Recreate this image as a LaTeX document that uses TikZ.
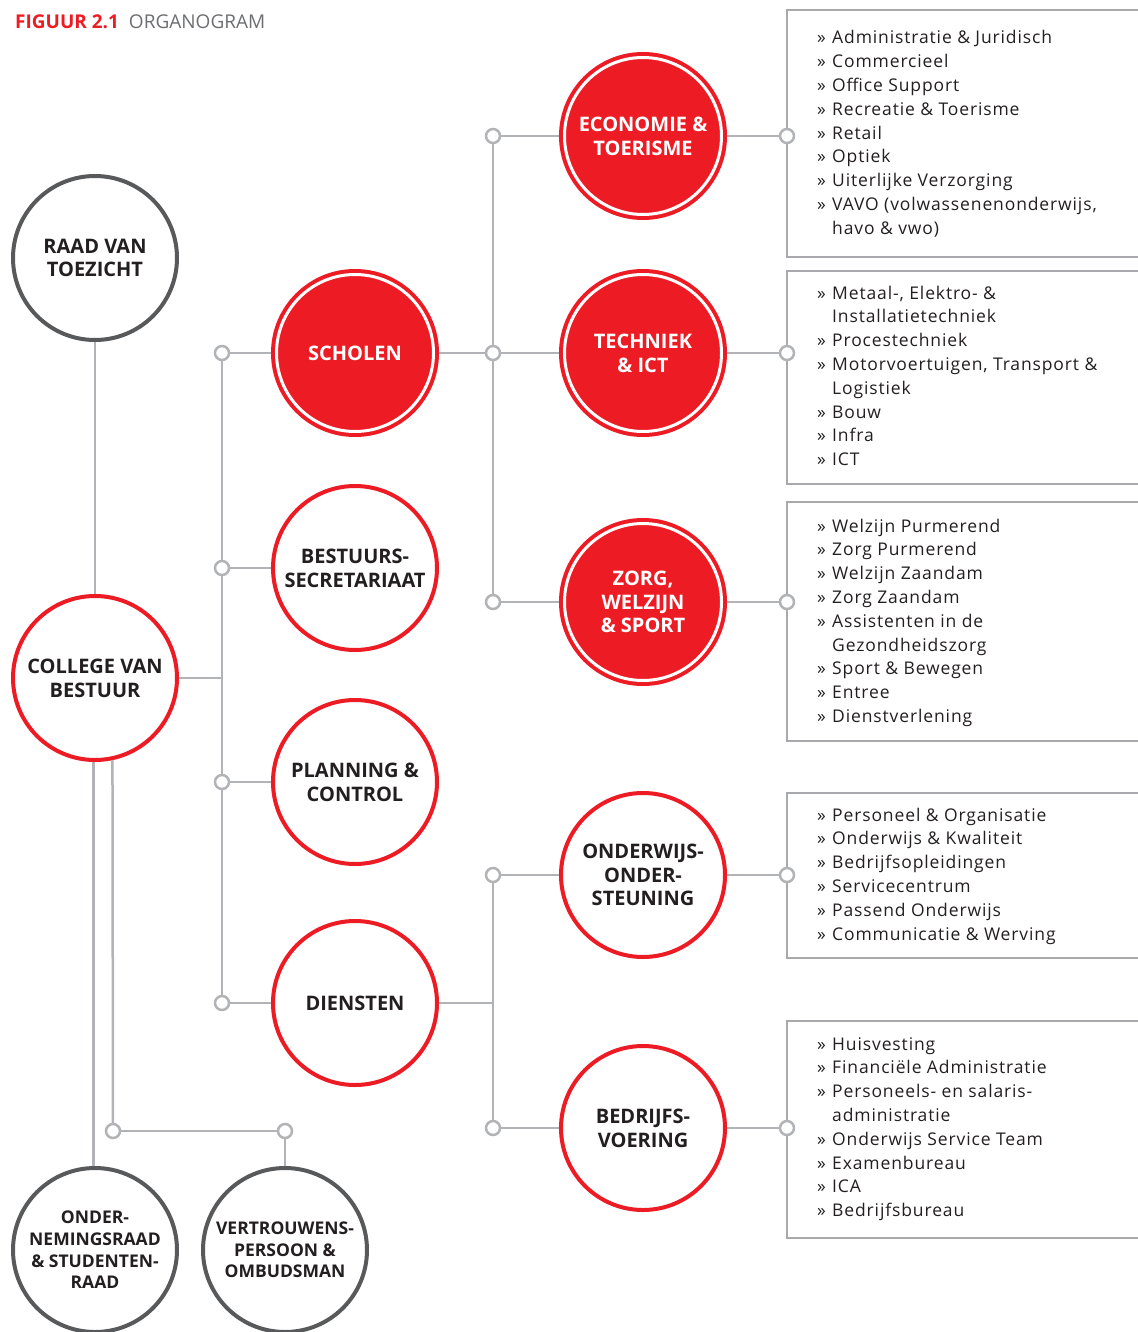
\documentclass[tikz,border=0pt]{standalone}
\usepackage{fontspec}
\setmainfont{Open Sans}
\newfontfamily\boxfont[LetterSpace=5]{Open Sans}
\definecolor{myred}{HTML}{ED1C24}
\definecolor{darkring}{HTML}{58595B}
\definecolor{linegray}{HTML}{B1B3B6}
\definecolor{boxgray}{HTML}{A7A9AC}
\definecolor{txt}{HTML}{231F20}
\definecolor{titlegray}{HTML}{6D6E71}
\newcommand\bul{\makebox[15pt][l]{»}}
\newcommand\cont{\hspace*{15pt}}
\begin{document}
\begin{tikzpicture}[x=1pt,y=-1pt,
  lbl/.style={align=center, font=\bfseries\fontsize{20}{23.8}\selectfont},
  redfill/.style={circle, fill=myred, minimum size=168pt, inner sep=0pt, text=white, lbl},
  redring/.style={circle, draw=myred, line width=4pt, fill=white, minimum size=164pt, inner sep=0pt, text=txt, lbl},
  grayring/.style={circle, draw=darkring, line width=4pt, fill=white, minimum size=164pt, inner sep=0pt, text=txt, lbl},
  smalllbl/.style={font=\bfseries\fontsize{17.5}{21.6}\selectfont},
  joint/.style={circle, draw=linegray, line width=2.5pt, fill=white, minimum size=14pt, inner sep=0pt},
  conn/.style={draw=linegray, line width=2.5pt},
  boxline/.style={draw=boxgray, line width=2pt},
  boxtext/.style={anchor=base west, inner sep=0pt, text=txt, font=\boxfont\fontsize{17.5}{23.8}\selectfont},
  innerring/.style={draw=white, line width=3pt}
]
\useasboundingbox (0,0) rectangle (1137,1332);

% title
\node[anchor=base west, inner sep=0pt, font=\fontsize{19}{22}\selectfont] (title) at (15,29)
  {\textcolor{myred}{\bfseries FIGUUR 2.1}\hspace{10pt}\textcolor{titlegray}{ORGANOGRAM}};

% main circles
\node[grayring] (raad) at (95,258) {RAAD VAN\\TOEZICHT};
\node[redring] (college) at (95,678) {COLLEGE VAN\\BESTUUR};
\node[redfill] (scholen) at (355,353) {SCHOLEN};
\node[redring] (bestuur) at (355,568) {BESTUURS-\\SECRETARIAAT};
\node[redring] (planning) at (355,782) {PLANNING \&\\CONTROL};
\node[redring] (diensten) at (355,1003) {DIENSTEN};
\node[redfill] (econ) at (643,136) {ECONOMIE \&\\TOERISME};
\node[redfill] (tech) at (643,353) {TECHNIEK\\\& ICT};
\node[redfill] (zorg) at (643,602) {ZORG,\\WELZIJN\\\& SPORT};
\node[redring] (onder) at (643,875) {ONDERWIJS-\\ONDER-\\STEUNING};
\node[redring] (bedrijf) at (643,1128) {BEDRIJFS-\\VOERING};
\node[grayring, smalllbl] (ondern) at (95,1250) {ONDER-\\NEMINGSRAAD\\\& STUDENTEN-\\RAAD};
\node[grayring, smalllbl] (vertr) at (285,1250) {VERTROUWENS-\\PERSOON \&\\OMBUDSMAN};

% white inner rings of filled circles
\foreach \n in {scholen,econ,tech,zorg}
  \draw[innerring] (\n.center) circle[radius=78.5pt];

% joints
\node[joint] (jA1) at (222,353) {};
\node[joint] (jA2) at (222,568) {};
\node[joint] (jA3) at (222,782) {};
\node[joint] (jA4) at (222,1003) {};
\node[joint] (jB1) at (493,136) {};
\node[joint] (jB2) at (493,353) {};
\node[joint] (jB3) at (493,602) {};
\node[joint] (jC1) at (493,875) {};
\node[joint] (jC2) at (493,1128) {};
\node[joint] (jE1) at (113,1131) {};
\node[joint] (jE2) at (285,1131) {};

% boxes
\draw[boxline] (1139,10) -- (787,10) -- (787,257) -- (1139,257);
\draw[boxline] (1139,271) -- (787,271) -- (787,484) -- (1139,484);
\draw[boxline] (1139,502) -- (787,502) -- (787,741) -- (1139,741);
\draw[boxline] (1139,793) -- (787,793) -- (787,958) -- (1139,958);
\draw[boxline] (1139,1021) -- (787,1021) -- (787,1238) -- (1139,1238);

\node[joint] (jD1) at (787,136) {};
\node[joint] (jD2) at (787,353) {};
\node[joint] (jD3) at (787,602) {};
\node[joint] (jD4) at (787,875) {};
\node[joint] (jD5) at (787,1128) {};

% connectors
\draw[conn] (raad) -- (college);
\draw[conn] (college) -- (college.east -| jA1);
\draw[conn] (jA1) -- (jA2);
\draw[conn] (jA2) -- (jA3);
\draw[conn] (jA3) -- (jA4);
\draw[conn] (jA1) -- (scholen);
\draw[conn] (jA2) -- (bestuur);
\draw[conn] (jA3) -- (planning);
\draw[conn] (jA4) -- (diensten);
\draw[conn] (scholen) -- (jB2);
\draw[conn] (jB1) -- (jB2);
\draw[conn] (jB2) -- (jB3);
\draw[conn] (jB1) -- (econ);
\draw[conn] (jB2) -- (tech);
\draw[conn] (jB3) -- (zorg);
\draw[conn] (diensten) -- (diensten.east -| jC1);
\draw[conn] (jC1) -- (jC2);
\draw[conn] (jC1) -- (onder);
\draw[conn] (jC2) -- (bedrijf);
\draw[conn] (econ) -- (jD1);
\draw[conn] (tech) -- (jD2);
\draw[conn] (zorg) -- (jD3);
\draw[conn] (onder) -- (jD4);
\draw[conn] (bedrijf) -- (jD5);
\draw[conn] (college.-91) -- (ondern.91);
\draw[conn] (college.-78) -- (jE1);
\draw[conn] (jE1) -- (jE2);
\draw[conn] (jE2) -- (vertr);

% box texts
\node[boxtext] (t1) at (817,44) {\parbox[t]{320pt}{\raggedright
\bul Administratie \& Juridisch\\
\bul Commercieel\\
\bul Office Support\\
\bul Recreatie \& Toerisme\\
\bul Retail\\
\bul Optiek\\
\bul Uiterlijke Verzorging\\
\bul VAVO (volwassenenonderwijs,\\
\cont havo \& vwo)}};
\node[boxtext] (t2) at (817,299) {\parbox[t]{320pt}{\raggedright
\bul Metaal-, Elektro- \&\\
\cont Installatietechniek\\
\bul Procestechniek\\
\bul Motorvoertuigen, Transport \&\\
\cont Logistiek\\
\bul Bouw\\
\bul Infra\\
\bul ICT}};
\node[boxtext] (t3) at (817,532) {\parbox[t]{320pt}{\raggedright
\bul Welzijn Purmerend\\
\bul Zorg Purmerend\\
\bul Welzijn Zaandam\\
\bul Zorg Zaandam\\
\bul Assistenten in de\\
\cont Gezondheidszorg\\
\bul Sport \& Bewegen\\
\bul Entree\\
\bul Dienstverlening}};
\node[boxtext] (t4) at (817,821) {\parbox[t]{320pt}{\raggedright
\bul Personeel \& Organisatie\\
\bul Onderwijs \& Kwaliteit\\
\bul Bedrijfsopleidingen\\
\bul Servicecentrum\\
\bul Passend Onderwijs\\
\bul Communicatie \& Werving}};
\node[boxtext] (t5) at (817,1050) {\parbox[t]{320pt}{\raggedright
\bul Huisvesting\\
\bul Financiële Administratie\\
\bul Personeels- en salaris-\\
\cont administratie\\
\bul Onderwijs Service Team\\
\bul Examenbureau\\
\bul ICA\\
\bul Bedrijfsbureau}};
\end{tikzpicture}
\end{document}
